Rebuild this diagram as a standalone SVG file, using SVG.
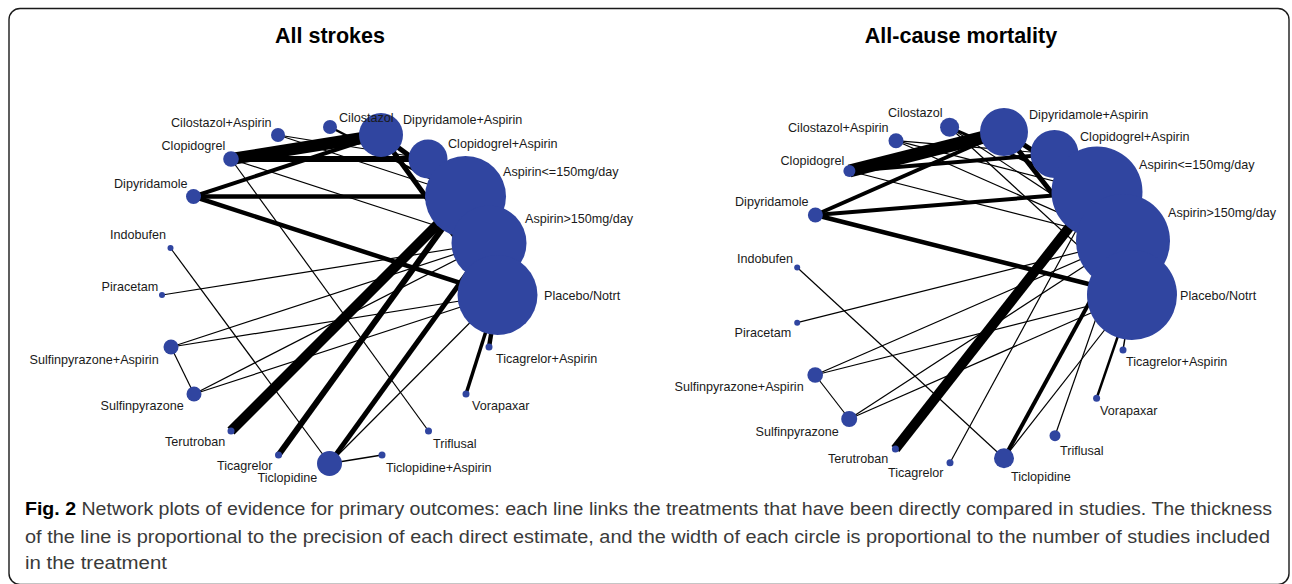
<svg xmlns="http://www.w3.org/2000/svg" width="1292" height="584" viewBox="0 0 1292 584">
<style>
.bg{fill:#ffffff}
.frame{fill:none;stroke:#1a1a1a;stroke-width:1.4}
.e line{stroke:#000000;stroke-linecap:butt}
.n circle{fill:#3045a0}
.lbl{font-family:"Liberation Sans",Arial,sans-serif;font-size:12.6px;fill:#1a1a1a}
.title{font-family:"Liberation Sans",Arial,sans-serif;font-size:21.5px;font-weight:bold;fill:#000000;text-anchor:middle}
.cap{font-family:"Liberation Sans",Arial,sans-serif;font-size:17.5px;fill:#3a3a3a}
.capb{font-weight:bold;fill:#000000}
</style>
<rect class="bg" x="0" y="0" width="1292" height="584"/>
<rect class="frame" x="9" y="8.5" width="1280" height="576" rx="11"/>

<text class="title" x="330" y="43">All strokes</text>
<text class="title" x="961" y="43">All-cause mortality</text>

<!-- LEFT: All strokes connectors -->
<g id="left-edges" class="e">
<line x1="231" y1="159" x2="381" y2="135" stroke-width="12"/>
<line x1="231" y1="159" x2="428" y2="159" stroke-width="6"/>
<line x1="193.5" y1="196.5" x2="381" y2="135" stroke-width="4"/>
<line x1="193.5" y1="196.5" x2="465.5" y2="196.5" stroke-width="4.5"/>
<line x1="193.5" y1="196.5" x2="497.5" y2="295" stroke-width="4.5"/>
<line x1="381" y1="135" x2="497.5" y2="295" stroke-width="5"/>
<line x1="381" y1="135" x2="465.5" y2="196.5" stroke-width="5"/>
<line x1="330" y1="127" x2="465.5" y2="196.5" stroke-width="2.5"/>
<line x1="278" y1="135" x2="465.5" y2="196.5" stroke-width="1.2"/>
<line x1="278" y1="135" x2="428" y2="159" stroke-width="1.2"/>
<line x1="231" y1="159" x2="428.5" y2="431" stroke-width="1.2"/>
<line x1="231" y1="159" x2="489" y2="243" stroke-width="1.2"/>
<line x1="170.5" y1="248" x2="329.5" y2="463.5" stroke-width="1.2"/>
<line x1="162" y1="295" x2="489" y2="243" stroke-width="1.2"/>
<line x1="171" y1="347" x2="489" y2="243" stroke-width="1.2"/>
<line x1="171" y1="347" x2="497.5" y2="295" stroke-width="1.2"/>
<line x1="194" y1="394" x2="489" y2="243" stroke-width="1.2"/>
<line x1="194" y1="394" x2="497.5" y2="295" stroke-width="1.2"/>
<line x1="194" y1="394" x2="171" y2="347" stroke-width="1.2"/>
<line x1="231" y1="431" x2="465.5" y2="196.5" stroke-width="10"/>
<line x1="278.5" y1="455" x2="465.5" y2="196.5" stroke-width="6"/>
<line x1="329.5" y1="463.5" x2="489" y2="243" stroke-width="5"/>
<line x1="329.5" y1="463.5" x2="497.5" y2="295" stroke-width="1.2"/>
<line x1="329.5" y1="463.5" x2="382" y2="455" stroke-width="1.5"/>
<line x1="466" y1="394" x2="497.5" y2="295" stroke-width="3.5"/>
<line x1="489" y1="347" x2="497.5" y2="295" stroke-width="4.5"/>
</g>

<!-- RIGHT: All-cause mortality connectors -->
<g id="right-edges" class="e">
<line x1="849.4" y1="171" x2="1004" y2="132" stroke-width="13"/>
<line x1="849.4" y1="171" x2="1054.5" y2="154" stroke-width="4"/>
<line x1="815.4" y1="215" x2="1004" y2="132" stroke-width="4"/>
<line x1="815.4" y1="215" x2="1097" y2="192" stroke-width="4"/>
<line x1="815.4" y1="215" x2="1132" y2="295" stroke-width="4.5"/>
<line x1="1004" y1="132" x2="1132" y2="295" stroke-width="5"/>
<line x1="1004" y1="132" x2="1097" y2="192" stroke-width="5"/>
<line x1="949.6" y1="127.3" x2="1097" y2="192" stroke-width="3"/>
<line x1="949.6" y1="127.3" x2="1123" y2="241" stroke-width="1.2"/>
<line x1="949.6" y1="127.3" x2="1132" y2="295" stroke-width="1.2"/>
<line x1="896" y1="140.7" x2="1097" y2="192" stroke-width="1.2"/>
<line x1="896" y1="140.7" x2="1054.5" y2="154" stroke-width="1.2"/>
<line x1="896" y1="140.7" x2="1123" y2="241" stroke-width="1.2"/>
<line x1="849.4" y1="171" x2="1123" y2="241" stroke-width="1.2"/>
<line x1="895.4" y1="449" x2="1097" y2="192" stroke-width="10"/>
<line x1="950" y1="462.7" x2="1097" y2="192" stroke-width="1.2"/>
<line x1="1004" y1="458.3" x2="1123" y2="241" stroke-width="4"/>
<line x1="1004" y1="458.3" x2="1132" y2="295" stroke-width="1.2"/>
<line x1="797.2" y1="267.5" x2="1004" y2="458.3" stroke-width="1.2"/>
<line x1="1055" y1="435.7" x2="1123" y2="241" stroke-width="1.2"/>
<line x1="1096.6" y1="398.3" x2="1132" y2="295" stroke-width="2.5"/>
<line x1="1123" y1="350" x2="1132" y2="295" stroke-width="1.5"/>
<line x1="797.2" y1="322.7" x2="1123" y2="241" stroke-width="1.2"/>
<line x1="815.2" y1="375" x2="1123" y2="241" stroke-width="1.2"/>
<line x1="815.2" y1="375" x2="1132" y2="295" stroke-width="1.2"/>
<line x1="849.2" y1="419" x2="1123" y2="241" stroke-width="1.2"/>
<line x1="849.2" y1="419" x2="1132" y2="295" stroke-width="1.2"/>
<line x1="849.2" y1="419" x2="815.2" y2="375" stroke-width="1.2"/>
</g>

<!-- LEFT nodes -->
<g id="L-cilostazol-aspirin" class="n"><circle cx="278" cy="135" r="7"/><text class="lbl" x="171" y="127">Cilostazol+Aspirin</text></g>
<g id="L-dipyridamole-aspirin" class="n"><circle cx="381" cy="135" r="22"/><text class="lbl" x="403" y="123.5">Dipyridamole+Aspirin</text></g>
<g id="L-cilostazol" class="n"><circle cx="330" cy="127" r="7"/><text class="lbl" x="339" y="122">Cilostazol</text></g>
<g id="L-clopidogrel-aspirin" class="n"><circle cx="428" cy="159" r="19.5"/><text class="lbl" x="448" y="148">Clopidogrel+Aspirin</text></g>
<g id="L-aspirin-le150" class="n"><circle cx="465.5" cy="196.5" r="40.5"/><text class="lbl" x="503" y="175.5">Aspirin&lt;=150mg/day</text></g>
<g id="L-aspirin-gt150" class="n"><circle cx="489" cy="243" r="37.5"/><text class="lbl" x="525" y="223">Aspirin&gt;150mg/day</text></g>
<g id="L-placebo" class="n"><circle cx="497.5" cy="295" r="40"/><text class="lbl" x="544" y="300">Placebo/Notrt</text></g>
<g id="L-ticagrelor-aspirin" class="n"><circle cx="489" cy="347" r="3.5"/><text class="lbl" x="496" y="363">Ticagrelor+Aspirin</text></g>
<g id="L-vorapaxar" class="n"><circle cx="466" cy="394" r="3.5"/><text class="lbl" x="472" y="410">Vorapaxar</text></g>
<g id="L-triflusal" class="n"><circle cx="428.5" cy="431" r="3.5"/><text class="lbl" x="433" y="447.5">Triflusal</text></g>
<g id="L-ticlopidine-aspirin" class="n"><circle cx="382" cy="455" r="3.5"/><text class="lbl" x="386" y="471.5">Ticlopidine+Aspirin</text></g>
<g id="L-ticlopidine" class="n"><circle cx="329.5" cy="463.5" r="12.5"/><text class="lbl" x="257.5" y="482">Ticlopidine</text></g>
<g id="L-ticagrelor" class="n"><circle cx="278.5" cy="455" r="3.5"/><text class="lbl" x="217" y="470">Ticagrelor</text></g>
<g id="L-terutroban" class="n"><circle cx="231" cy="431" r="3.5"/><text class="lbl" x="165" y="445.5">Terutroban</text></g>
<g id="L-sulfinpyrazone" class="n"><circle cx="194" cy="394" r="7.5"/><text class="lbl" x="100.5" y="410">Sulfinpyrazone</text></g>
<g id="L-sulfinpyrazone-aspirin" class="n"><circle cx="171" cy="347" r="7.5"/><text class="lbl" x="29.5" y="363.5">Sulfinpyrazone+Aspirin</text></g>
<g id="L-piracetam" class="n"><circle cx="162" cy="295" r="3"/><text class="lbl" x="101.5" y="290.5">Piracetam</text></g>
<g id="L-indobufen" class="n"><circle cx="170.5" cy="248" r="3"/><text class="lbl" x="110" y="238.5">Indobufen</text></g>
<g id="L-dipyridamole" class="n"><circle cx="193.5" cy="196.5" r="7.5"/><text class="lbl" x="114" y="188">Dipyridamole</text></g>
<g id="L-clopidogrel" class="n"><circle cx="231" cy="159" r="7.8"/><text class="lbl" x="161.5" y="150">Clopidogrel</text></g>

<!-- RIGHT nodes -->
<g id="R-cilostazol" class="n"><circle cx="949.6" cy="127.3" r="9.5"/><text class="lbl" x="888" y="117">Cilostazol</text></g>
<g id="R-cilostazol-aspirin" class="n"><circle cx="896" cy="140.7" r="7.5"/><text class="lbl" x="788" y="132">Cilostazol+Aspirin</text></g>
<g id="R-dipyridamole-aspirin" class="n"><circle cx="1004" cy="132" r="24"/><text class="lbl" x="1029" y="119">Dipyridamole+Aspirin</text></g>
<g id="R-clopidogrel-aspirin" class="n"><circle cx="1054.5" cy="154" r="24"/><text class="lbl" x="1080" y="141">Clopidogrel+Aspirin</text></g>
<g id="R-aspirin-le150" class="n"><circle cx="1097" cy="192" r="45.5"/><text class="lbl" x="1139" y="168.5">Aspirin&lt;=150mg/day</text></g>
<g id="R-aspirin-gt150" class="n"><circle cx="1123" cy="241" r="47"/><text class="lbl" x="1168" y="216.5">Aspirin&gt;150mg/day</text></g>
<g id="R-placebo" class="n"><circle cx="1132" cy="295" r="45"/><text class="lbl" x="1180" y="300">Placebo/Notrt</text></g>
<g id="R-ticagrelor-aspirin" class="n"><circle cx="1123" cy="350" r="3.5"/><text class="lbl" x="1126" y="366">Ticagrelor+Aspirin</text></g>
<g id="R-vorapaxar" class="n"><circle cx="1096.6" cy="398.3" r="3.5"/><text class="lbl" x="1100" y="415">Vorapaxar</text></g>
<g id="R-triflusal" class="n"><circle cx="1055" cy="435.7" r="5.5"/><text class="lbl" x="1060" y="454.5">Triflusal</text></g>
<g id="R-ticlopidine" class="n"><circle cx="1004" cy="458.3" r="10"/><text class="lbl" x="1011" y="480.5">Ticlopidine</text></g>
<g id="R-ticagrelor" class="n"><circle cx="950" cy="462.7" r="3.5"/><text class="lbl" x="888" y="477">Ticagrelor</text></g>
<g id="R-terutroban" class="n"><circle cx="895.4" cy="449" r="3.5"/><text class="lbl" x="828" y="463">Terutroban</text></g>
<g id="R-sulfinpyrazone" class="n"><circle cx="849.2" cy="419" r="8"/><text class="lbl" x="755.5" y="435.5">Sulfinpyrazone</text></g>
<g id="R-sulfinpyrazone-aspirin" class="n"><circle cx="815.2" cy="375" r="7.8"/><text class="lbl" x="674.5" y="391">Sulfinpyrazone+Aspirin</text></g>
<g id="R-piracetam" class="n"><circle cx="797.2" cy="322.7" r="3"/><text class="lbl" x="734.5" y="337">Piracetam</text></g>
<g id="R-indobufen" class="n"><circle cx="797.2" cy="267.5" r="3"/><text class="lbl" x="737" y="263">Indobufen</text></g>
<g id="R-dipyridamole" class="n"><circle cx="815.4" cy="215" r="7.5"/><text class="lbl" x="735" y="206">Dipyridamole</text></g>
<g id="R-clopidogrel" class="n"><circle cx="849.4" cy="171" r="6"/><text class="lbl" x="780.5" y="164.5">Clopidogrel</text></g>

<g id="caption">
<text class="cap" x="25" y="515" textLength="1247" lengthAdjust="spacingAndGlyphs"><tspan class="capb">Fig. 2</tspan> Network plots of evidence for primary outcomes: each line links the treatments that have been directly compared in studies. The thickness</text>
<text class="cap" x="25" y="543" textLength="1245" lengthAdjust="spacingAndGlyphs">of the line is proportional to the precision of each direct estimate, and the width of each circle is proportional to the number of studies included</text>
<text class="cap" x="25" y="569" textLength="142" lengthAdjust="spacingAndGlyphs">in the treatment</text>
</g>
</svg>
